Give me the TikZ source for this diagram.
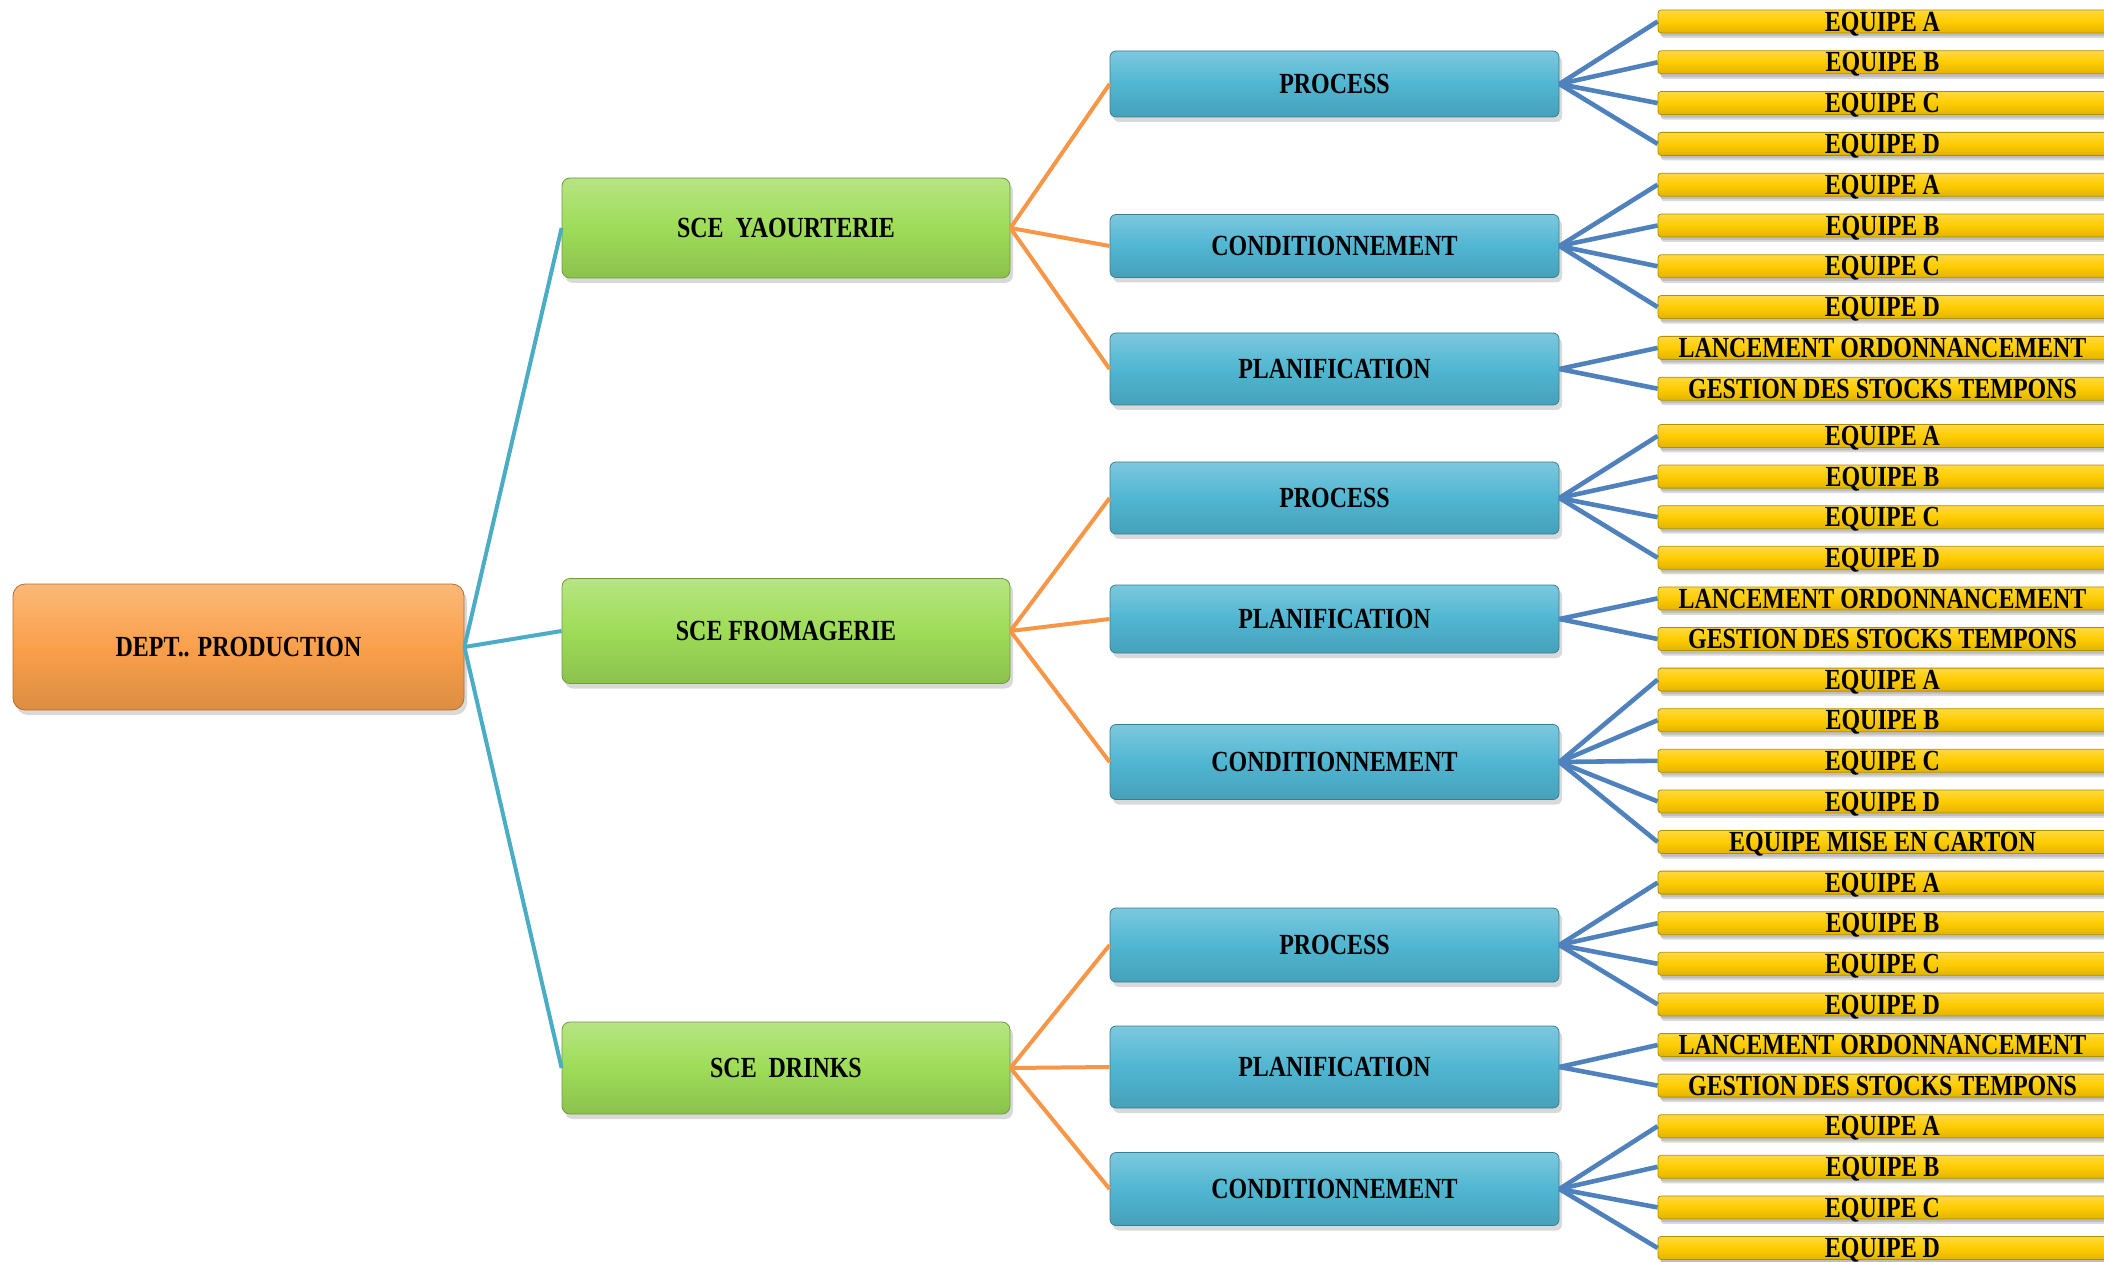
\documentclass[tikz,border=0pt]{standalone}
\usepackage{fontspec}
\setmainfont{Liberation Serif}[FakeStretch=0.82]
\usepackage{tikz}
\usetikzlibrary{shadows}
\usetikzlibrary{positioning}

\begin{document}
\begin{tikzpicture}[x=0.5pt,y=-0.5pt,
    box/.style={draw=#1!70!black,line width=0.4pt,top color=#1!75!white,bottom color=#1!88!black,middle color=#1,
        drop shadow={shadow xshift=1.5pt,shadow yshift=-2.5pt,opacity=0.3},
        font=\fontsize{14.6}{16}\selectfont\bfseries,align=center,inner sep=0pt},
    rootbox/.style={box=deptorange,rounded corners=6pt,minimum width=225.5pt,minimum height=63pt},
    scebox/.style={box=scegreen,rounded corners=4pt,minimum width=224pt},
    unitbox/.style={box=unitblue,rounded corners=3pt,minimum width=224.5pt},
    teambar/.style={box=teamyellow,rounded corners=1.5pt,minimum width=224.5pt,text height=9.7pt,text depth=0pt,inner ysep=0.9pt,
        drop shadow={shadow xshift=1pt,shadow yshift=-1.5pt,opacity=0.3}},
    rootlink/.style={draw=rootline,line width=2pt},
    scelink/.style={draw=sceline,line width=2pt},
    teamlink/.style={draw=teamline,line width=2.3pt}]
    \definecolor{deptorange}{RGB}{250,160,75}
    \definecolor{scegreen}{RGB}{158,220,88}
    \definecolor{unitblue}{RGB}{80,182,210}
    \definecolor{teamyellow}{RGB}{255,204,0}
    \definecolor{rootline}{RGB}{75,172,198}
    \definecolor{sceline}{RGB}{247,150,70}
    \definecolor{teamline}{RGB}{79,129,189}
    \useasboundingbox (0,0) rectangle (2104,1262);
    \clip (0,0) rectangle (2104,1262);

    \node[rootbox] (dept) at (238.5,647) {DEPT.. PRODUCTION};

    \node[scebox,minimum height=50pt] (yaourt) at (786,228) {SCE\ \ YAOURTERIE};
    \node[scebox,minimum height=52.5pt] (fromage) at (786,631) {SCE FROMAGERIE};
    \node[scebox,minimum height=46pt] (drinks) at (786,1068) {SCE\ \ DRINKS};

    \node[unitbox,minimum height=33pt] (yprocess) at (1334.5,84) {PROCESS};
    \node[unitbox,minimum height=31.5pt] (ycond) at (1334.5,246) {CONDITIONNEMENT};
    \node[unitbox,minimum height=36pt] (yplan) at (1334.5,369) {PLANIFICATION};
    \node[unitbox,minimum height=36pt] (fprocess) at (1334.5,498) {PROCESS};
    \node[unitbox,minimum height=34pt] (fplan) at (1334.5,619) {PLANIFICATION};
    \node[unitbox,minimum height=37.5pt] (fcond) at (1334.5,762) {CONDITIONNEMENT};
    \node[unitbox,minimum height=37pt] (dprocess) at (1334.5,945) {PROCESS};
    \node[unitbox,minimum height=41pt] (dplan) at (1334.5,1067) {PLANIFICATION};
    \node[unitbox,minimum height=36.5pt] (dcond) at (1334.5,1189) {CONDITIONNEMENT};

    % teams
    \foreach \t [count=\i] in {EQUIPE A,EQUIPE B,EQUIPE C,EQUIPE D,EQUIPE A,EQUIPE B,EQUIPE C,EQUIPE D,
        LANCEMENT ORDONNANCEMENT,GESTION DES STOCKS TEMPONS}
        \node[teambar] (b\i) at (1882.5,{21.5+40.8*(\i-1)}) {\t};
    \foreach \t [count=\i from 11] in {EQUIPE A,EQUIPE B,EQUIPE C,EQUIPE D,
        LANCEMENT ORDONNANCEMENT,GESTION DES STOCKS TEMPONS,
        EQUIPE A,EQUIPE B,EQUIPE C,EQUIPE D,EQUIPE MISE EN CARTON,
        EQUIPE A,EQUIPE B,EQUIPE C,EQUIPE D,
        LANCEMENT ORDONNANCEMENT,GESTION DES STOCKS TEMPONS,
        EQUIPE A,EQUIPE B,EQUIPE C,EQUIPE D}
        \node[teambar] (b\i) at (1882.5,{436+40.6*(\i-11)}) {\t};

    \foreach \s in {yaourt,fromage,drinks}
        \draw[rootlink] (dept.east) -- (\s.west);
    \foreach \s/\u in {yaourt/yprocess,yaourt/ycond,yaourt/yplan,fromage/fprocess,fromage/fplan,fromage/fcond,
        drinks/dprocess,drinks/dplan,drinks/dcond}
        \draw[scelink] (\s.east) -- (\u.west);
    \foreach \u/\first/\last in {yprocess/1/4,ycond/5/8,yplan/9/10,fprocess/11/14,fplan/15/16,fcond/17/21,
        dprocess/22/25,dplan/26/27,dcond/28/31}
        \foreach \k in {\first,...,\last}
            \draw[teamlink] (\u.east) -- (b\k.west);
\end{tikzpicture}
\end{document}
